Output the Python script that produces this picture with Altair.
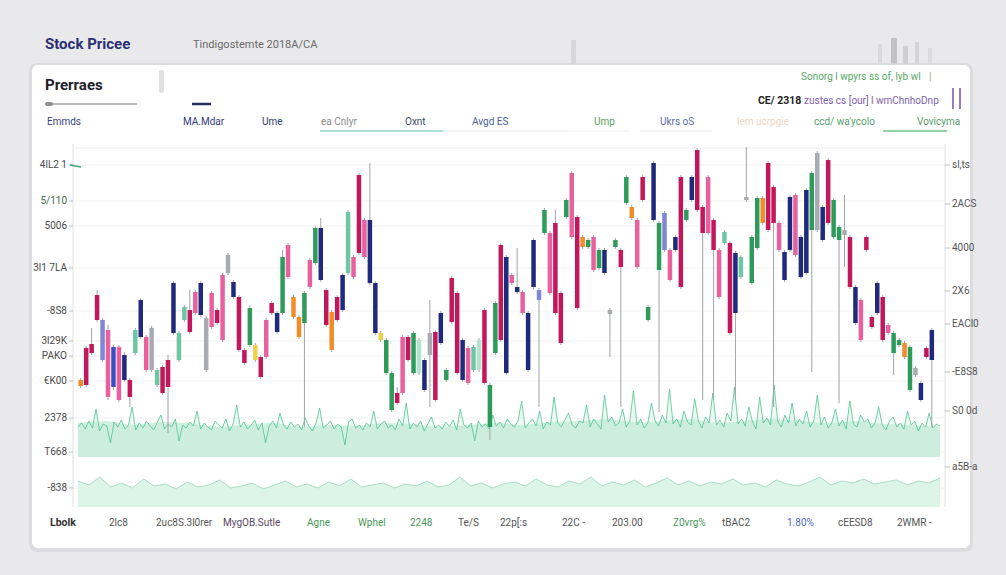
import altair as alt
import pandas as pd

FONT = "Roboto"

# ---------------- data ----------------
tone = ["O","C","C","C","L","P","B","P","N","C","T","N","P","Y","T","C","C","N","T","T",
        "C","P","N","Y","P","C","P","Y","N","C","C","G","W","C","P","C","N","G","P","O",
        "O","G","P","G","N","C","O","C","N","T","P","C","P","N","N","W","G","G","C","P",
        "C","G","M","N","Y","C","N","G","C","C","N","P","T","M","C","G","G","C","N","P",
        "N","P","N","N","L","G","P","C","C","G","P","C","O","G","P","G","N","Y","G","C",
        "G","O","P","C","G","N","G","L","P","N","C","G","N","C","C","P","C","P","T","C",
        "N","T","Y","G","G","O","C","C","P","N","N","P","N","N","G","Y","N","C","G","G",
        "Y","C","N","P","C","C","N","C","P","G","G","O","G","Y","N","C","N"]
body_hi = [127,159,163,212,187,177,160,160,152,127,177,207,170,179,137,140,147,224,174,200,
           197,215,224,189,214,197,232,252,225,210,157,199,162,150,187,204,194,250,262,210,
           190,214,247,279,279,217,195,210,232,295,250,332,287,287,224,174,167,134,114,170,
           170,174,167,147,174,175,194,137,229,214,167,159,160,167,197,122,204,262,250,232,
           220,215,194,267,217,297,274,284,214,307,334,290,270,267,270,257,257,197,267,257,
           330,300,287,330,200,344,284,294,257,270,330,297,330,357,300,330,287,257,275,264,
           254,250,310,270,309,309,344,320,284,255,310,312,270,317,334,354,300,347,307,280,
           277,270,220,207,270,190,224,210,182,174,167,164,160,139,124,159,177]
body_lo = [121,122,154,187,147,110,120,107,127,110,154,170,137,137,122,114,120,174,147,187,
           175,194,192,137,180,184,167,234,210,157,144,162,147,130,150,194,175,194,230,190,
           170,184,220,244,227,182,157,187,197,234,230,254,250,224,174,167,134,97,104,114,
           147,134,134,117,152,107,164,127,185,134,127,124,137,137,124,80,154,167,134,224,
           215,194,137,220,207,274,214,194,164,290,270,199,260,260,237,239,234,193,260,240,
           304,289,240,307,187,287,237,257,227,257,220,287,307,297,274,274,257,210,264,174,
           194,230,307,224,259,284,277,284,257,227,257,252,230,234,277,277,267,284,270,267,
           272,220,184,167,257,180,194,167,174,154,162,150,117,132,107,150,147]
high = [129,161,179,217,189,182,162,162,155,129,179,209,172,181,139,142,152,226,176,202,
        217,217,226,191,216,199,234,254,227,212,159,202,164,152,189,206,196,257,264,212,
        192,216,249,281,289,219,197,212,234,297,252,334,289,344,226,176,169,136,120,172,
        172,176,169,149,207,177,196,139,231,216,169,161,162,169,199,124,206,264,252,234,
        259,217,196,269,219,299,276,297,216,309,336,292,272,269,272,259,259,199,269,259,
        332,302,289,332,202,346,286,296,259,272,332,299,332,359,302,332,289,259,277,266,
        256,252,360,272,311,311,346,322,286,257,312,314,272,319,336,356,302,349,309,282,
        312,272,222,209,272,192,226,212,184,176,169,166,162,141,126,161,179]
low = [119,120,152,185,145,107,117,105,125,100,152,168,135,135,120,112,74,172,145,185,
       173,192,190,135,178,182,165,232,208,155,142,160,145,128,148,192,173,192,228,188,
       168,80,218,242,225,180,155,185,195,232,228,252,248,222,172,165,132,95,102,112,
       145,132,132,115,100,105,162,125,183,132,125,122,135,135,122,67,152,165,132,222,
       213,192,135,218,100,272,212,192,162,288,268,197,258,258,235,237,232,150,258,100,
       302,287,238,305,185,285,95,255,225,255,218,285,305,295,107,272,107,208,262,172,
       107,228,305,222,257,282,275,100,255,225,255,250,228,232,135,275,265,282,268,104,
       240,218,182,165,255,178,192,165,172,132,160,148,115,130,105,148,80]

volume = [80,84,78,86,79,98,76,83,81,64,85,80,87,78,82,100,77,84,79,86,
          81,77,85,92,78,83,80,88,66,82,79,85,81,96,78,84,80,77,86,82,
          79,88,76,83,102,80,85,78,82,87,77,84,64,81,86,79,94,82,78,85,
          80,83,77,89,81,76,84,99,79,82,86,78,83,80,62,85,88,79,82,77,
          84,80,96,78,83,86,79,82,77,88,81,104,78,84,80,86,76,83,90,79,
          82,78,85,80,87,77,98,82,79,84,66,86,80,83,78,92,81,85,79,88,
          83,80,86,106,79,84,88,81,96,78,85,82,110,84,80,87,94,82,79,86,
          84,102,80,88,83,78,112,85,90,81,84,98,80,86,116,82,88,79,84,104,
          86,81,92,84,118,83,88,80,96,85,82,108,86,79,90,84,114,82,87,80,
          94,86,120,83,88,81,100,85,78,110,84,89,82,122,86,80,92,84,104,81,
          88,83,96,80,86,112,82,90,79,84,98,81,87,78,106,83,80,92,85,88,
          79,84,100,82,77,86,90,80,84,78,96,82,86,76,84,80,94,79,83,81]
volume_base = [84,86,82,85,84,80,82,84,80,82,81,84,83,80,82,84,
               82,85,86,88,85,86,88,84,86,88,86,84,86,83,82,80]
flow = [26,22,30,20,24,19,28,21,23,18,25,20,22,27,19,21,24,18,22,26,
        20,23,19,25,21,28,20,22,24,19,23,21,26,20,22,30,21,24,19,23,
        25,21,28,22,20,26,23,30,21,25,22,27,20,24,29,22,26,21,25,23,
        28,22,24,20,27,23,21,25,30,22,26,24,28,23,25,27,22,26,24,29]

left_tick_values = [342, 306, 281, 239, 196, 166, 151, 126, 89, 55, 19]
left_tick_labels = ["4lL2 1", "5/110", "5006", "3l1 7LA", "-8S8", "3l29K", "PAKO", "€K00", "2378", "T668", "-838"]
right_tick_values = [342, 303, 259, 216, 183, 135, 96, 40]
right_tick_labels = ["sl,ts", "2ACS", "4000", "2X6", "EACl0", "-E8S8", "S0 0d", "a5B-a"]
x_tick_labels = ["2lc8", "2uc8S.3l0rer", "MygOB.Sutle", "Agne", "Wphel", "2248", "Te/S",
                 "22p[:s", "22C -", "203.00", "Z0vrg%", "tBAC2", "1.80%", "cEESD8", "2WMR -"]
tab_labels = ["Emmds", "MA.Mdar", "Ume", "ea Cnlyr", "Oxnt", "Avgd ES", "Ump", "Ukrs oS",
              "lem ucrpgie", "ccd/ wa'ycolo", "Vovicyma"]

# ---------------- styling / layout (not data) ----------------
tone_domain = ["N", "C", "P", "G", "T", "Y", "O", "L", "B", "W", "M"]
tone_range = ["#1f2a7c", "#c2185b", "#e8619e", "#2e9b5a", "#6fc6a4", "#a9abb3",
              "#f28c28", "#7f86d4", "#3b4fc4", "#f1d04a", "#b3e3cc"]
left_label_colors = ["#4a4a4a", "#3d6e4c", "#4a4a4a", "#4a4a4a", "#4a4a4a", "#4a4a4a",
                     "#4a4a4a", "#4a4a4a", "#4a4a4a", "#4a4a4a", "#4a4a4a"]
x_label_px = [36, 83, 150, 234, 285, 337, 385, 427, 489, 539, 600, 649, 714, 765, 824]
x_label_colors = ["#555", "#555", "#5a4660", "#4a9a5a", "#4a9a5a", "#4a9a5a", "#555",
                  "#555", "#555", "#555", "#4a9a5a", "#555", "#4a6ac0", "#555", "#555"]
tab_px = [-26, 110, 189, 248, 332, 399, 521, 587, 664, 741, 844]
tab_colors = ["#3b3f86", "#343a80", "#2f3d6a", "#8a8a8a", "#3c4a6a", "#4a5f9a",
              "#5aa060", "#5a6aa8", "#ecd6c4", "#5aa070", "#5a9a70"]

XS = alt.Scale(domain=[-0.5, 157.5], nice=False, zero=False)
YS = alt.Scale(domain=[0, 359], nice=False, zero=False)

one = pd.DataFrame({"k": [0]})


def label(text, dx, dy, size=10, color="#444", weight="normal", align="left", font=FONT):
    return alt.Chart(pd.DataFrame({"t": [text]})).mark_text(
        align=align, baseline="middle", fontSize=size, fontWeight=weight,
        color=color, font=font
    ).encode(x=alt.value(dx), y=alt.value(dy), text="t:N")


def seg(x1, y1, x2, y2, color, width=1.0, opacity=1.0):
    return alt.Chart(one).mark_rule(color=color, strokeWidth=width, opacity=opacity).encode(
        x=alt.value(x1), x2=alt.value(x2), y=alt.value(y1), y2=alt.value(y2))


def box(x1, y1, x2, y2, color, radius=0, opacity=1.0):
    return alt.Chart(one).mark_rect(color=color, cornerRadius=radius, opacity=opacity).encode(
        x=alt.value(x1), x2=alt.value(x2), y=alt.value(y1), y2=alt.value(y2))


layers = []

# background decorations behind the card
layers += [
    box(498, -108, 503, -84, "#d2d2d4", 1, 0.8),
    box(805, -104, 809, -84, "#d4d4d6", 1, 0.8),
    box(818, -110, 824, -84, "#b8b8bb", 1, 0.8),
    box(830, -102, 835, -84, "#c8c8cb", 1, 0.8),
    box(842, -106, 846, -84, "#d0d0d2", 1, 0.8),
    box(855, -100, 859, -84, "#d8d8da", 1, 0.8),
]
# card shadow + card
layers += [
    box(-44, -85, 900, 404, "#d6d6da", 8, 0.7),
    box(-41, -83, 897, 400, "#ffffff", 6),
]
# headings
layers += [
    label("Stock Pricee", -28, -104, 15, "#2b2f72", "bold"),
    label("Tindigostemte 2018A/CA", 120, -103, 11, "#6a6a6a"),
    label("Prerraes", -28, -63, 15, "#1e1e2a", "bold"),
    seg(-26, -44, 64, -44, "#a0a0a0", 1.5),
    box(-28, -46, -20, -42, "#909090", 2),
    seg(119, -44, 138, -44, "#2a2f60", 2.5),
    box(86, -78, 91, -55, "#d8d8da", 2, 0.8),
    label("Sonorg l wpyrs ss of, lyb wl", 728, -71, 10, "#58a868"),
    label("|", 856, -71, 10, "#999"),
    label("CE/ 2318", 685, -47, 10.5, "#222", "bold"),
    label("zustes cs [our] l wmChnhoDnp", 731, -47, 10, "#8060a8"),
    seg(880, -60, 880, -39, "#9a7ac0", 2),
    seg(887, -60, 887, -39, "#9a7ac0", 2),
]
# tabs
for t, px, col in zip(tab_labels, tab_px, tab_colors):
    layers.append(label(t, px, -26, 10, col))
layers += [
    seg(247, -17, 370, -17, "#8fd6c8", 1.5),
    seg(370, -17, 492, -17, "#e6e6e6", 1),
    seg(492, -17, 557, -17, "#ececec", 1),
    seg(567, -17, 639, -17, "#e8e8e8", 1),
    seg(810, -17, 874, -17, "#6cc48a", 1.5),
]

# frame
layers += [
    seg(0, 0, 872, 0, "#ececec", 1),
    seg(0, -4, 0, 359, "#e0e0e0", 1),
    seg(872, -4, 872, 359, "#e0e0e0", 1),
]

# grid lines and y labels
lt = pd.DataFrame({"v": left_tick_values, "lab": left_tick_labels, "c": left_label_colors})
rt = pd.DataFrame({"v": right_tick_values, "lab": right_tick_labels})
layers += [
    alt.Chart(lt).mark_rule(color="#f1f1f1", strokeWidth=1).encode(
        y=alt.Y("v:Q", scale=YS, axis=None), x=alt.value(0), x2=alt.value(872)),
    alt.Chart(lt).mark_rule(color="#bdbdbd", strokeWidth=1).encode(
        y=alt.Y("v:Q", scale=YS, axis=None), x=alt.value(-4), x2=alt.value(0)),
    alt.Chart(lt).mark_text(align="right", baseline="middle", fontSize=10, font=FONT).encode(
        y=alt.Y("v:Q", scale=YS, axis=None), x=alt.value(-6), text="lab:N",
        color=alt.Color("c:N", scale=None)),
    alt.Chart(rt).mark_rule(color="#bdbdbd", strokeWidth=1).encode(
        y=alt.Y("v:Q", scale=YS, axis=None), x=alt.value(872), x2=alt.value(877)),
    alt.Chart(rt).mark_text(align="left", baseline="middle", fontSize=10, font=FONT,
                            color="#555").encode(
        y=alt.Y("v:Q", scale=YS, axis=None), x=alt.value(879), text="lab:N"),
    seg(-3, 17, 8, 19, "#3aa870", 1.5),
]

# x labels
layers.append(label("Lbolk", -23, 375, 10.5, "#333", "bold"))
for t, px, col in zip(x_tick_labels, x_label_px, x_label_colors):
    layers.append(label(t, px, 375, 10, col))

# volume panel
n_base = len(volume_base)
vb = pd.DataFrame({"x": [-0.5 + i * 158 / (n_base - 1) for i in range(n_base)], "v": volume_base})
n_vol = len(volume)
vd = pd.DataFrame({"x": [-0.5 + i * 158 / (n_vol - 1) for i in range(n_vol)], "v": volume})
n_flow = len(flow)
fd = pd.DataFrame({"x": [-0.5 + i * 158 / (n_flow - 1) for i in range(n_flow)], "v": flow})
layers += [
    alt.Chart(vb).mark_area(color="#d0efe0", opacity=0.95, interpolate="monotone").encode(
        x=alt.X("x:Q", scale=XS, axis=None), y=alt.Y("v:Q", scale=YS, axis=None), y2=alt.datum(50)),
    alt.Chart(vd).mark_area(color="#c2ead7", opacity=0.3).encode(
        x=alt.X("x:Q", scale=XS, axis=None), y=alt.Y("v:Q", scale=YS, axis=None), y2=alt.datum(50)),
    alt.Chart(vd).mark_line(color="#3fbf86", strokeWidth=0.9, opacity=0.8).encode(
        x=alt.X("x:Q", scale=XS, axis=None), y=alt.Y("v:Q", scale=YS, axis=None)),
    alt.Chart(fd).mark_area(color="#dbf4e8", opacity=0.95).encode(
        x=alt.X("x:Q", scale=XS, axis=None), y=alt.Y("v:Q", scale=YS, axis=None), y2=alt.datum(0)),
    alt.Chart(fd).mark_line(color="#a9ddc6", strokeWidth=1).encode(
        x=alt.X("x:Q", scale=XS, axis=None), y=alt.Y("v:Q", scale=YS, axis=None)),
]

# candles
cd = pd.DataFrame({"idx": list(range(len(tone))), "tone": tone, "hi": body_hi,
                   "lo": body_lo, "high": high, "low": low})
layers += [
    alt.Chart(cd).mark_rule(color="#9ea3a8", strokeWidth=1).encode(
        x=alt.X("idx:Q", scale=XS, axis=None), y=alt.Y("high:Q", scale=YS, axis=None), y2="low:Q"),
    alt.Chart(cd).mark_bar(size=4.5).encode(
        x=alt.X("idx:Q", scale=XS, axis=None), y=alt.Y("hi:Q", scale=YS, axis=None), y2="lo:Q",
        color=alt.Color("tone:N", scale=alt.Scale(domain=tone_domain, range=tone_range), legend=None)),
]

chart = alt.layer(*layers).properties(
    width=872, height=359,
    autosize=alt.AutoSizeParams(type="none"),
    padding={"left": 73, "top": 148, "right": 61, "bottom": 68},
).configure_view(stroke=None).configure(background="#e9e9eb")

chart.save("out.html", embed_options={"renderer": "svg", "actions": False})
